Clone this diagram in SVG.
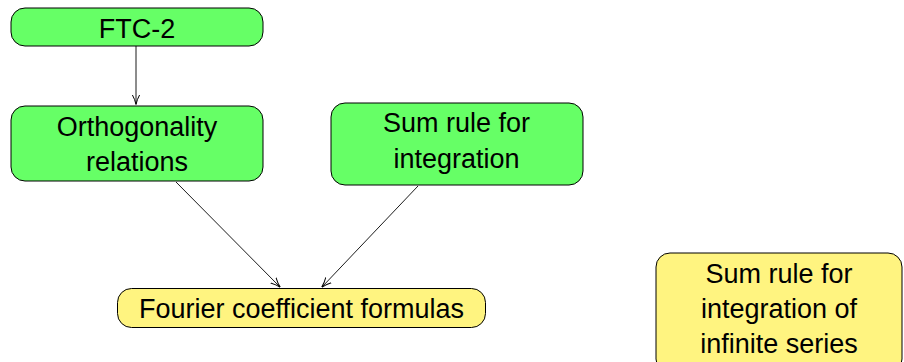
<svg xmlns="http://www.w3.org/2000/svg" width="904" height="362" viewBox="0 0 904 362">
  <style>
    .box { stroke: #000; stroke-width: 1; }
    .green { fill: #66ff66; }
    .yellow { fill: #fff480; }
    .lbl { font-family: "Liberation Sans", Arial, sans-serif; font-size: 27px; fill: #000; text-anchor: middle; }
    .edge { stroke: #000; stroke-width: 0.9; fill: none; marker-end: url(#tip); }
  </style>
  <defs>
    <marker id="tip" viewBox="0 0 10 10" refX="9.5" refY="5" markerWidth="10" markerHeight="10" markerUnits="userSpaceOnUse" orient="auto">
      <path d="M0,1.2 Q5,4 10,5 Q5,6 0,8.8" fill="none" stroke="#000" stroke-width="1"/>
    </marker>
  </defs>

  <g id="edges">
    <line class="edge" x1="136" y1="46" x2="136" y2="104"/>
    <line class="edge" x1="176" y1="182" x2="280" y2="287"/>
    <line class="edge" x1="418" y1="186" x2="322" y2="287"/>
  </g>

  <g id="ftc2">
    <rect class="box green" x="11" y="8" width="252" height="38" rx="14"/>
    <text class="lbl" x="137" y="38">FTC-2</text>
  </g>

  <g id="orthogonality">
    <rect class="box green" x="11" y="106" width="252" height="75" rx="14"/>
    <text class="lbl" x="137" y="136">Orthogonality</text>
    <text class="lbl" x="137" y="171">relations</text>
  </g>

  <g id="sum-rule">
    <rect class="box green" x="331" y="103" width="252" height="82" rx="14"/>
    <text class="lbl" x="456.5" y="132">Sum rule for</text>
    <text class="lbl" x="456.5" y="168">integration</text>
  </g>

  <g id="fourier">
    <rect class="box yellow" x="117.5" y="288.5" width="368" height="39" rx="14"/>
    <text class="lbl" x="301.5" y="318">Fourier coefficient formulas</text>
  </g>

  <g id="sum-rule-series">
    <rect class="box yellow" x="656" y="253" width="246" height="120" rx="14"/>
    <text class="lbl" x="779" y="283">Sum rule for</text>
    <text class="lbl" x="779" y="318">integration of</text>
    <text class="lbl" x="779" y="353">infinite series</text>
  </g>
</svg>
